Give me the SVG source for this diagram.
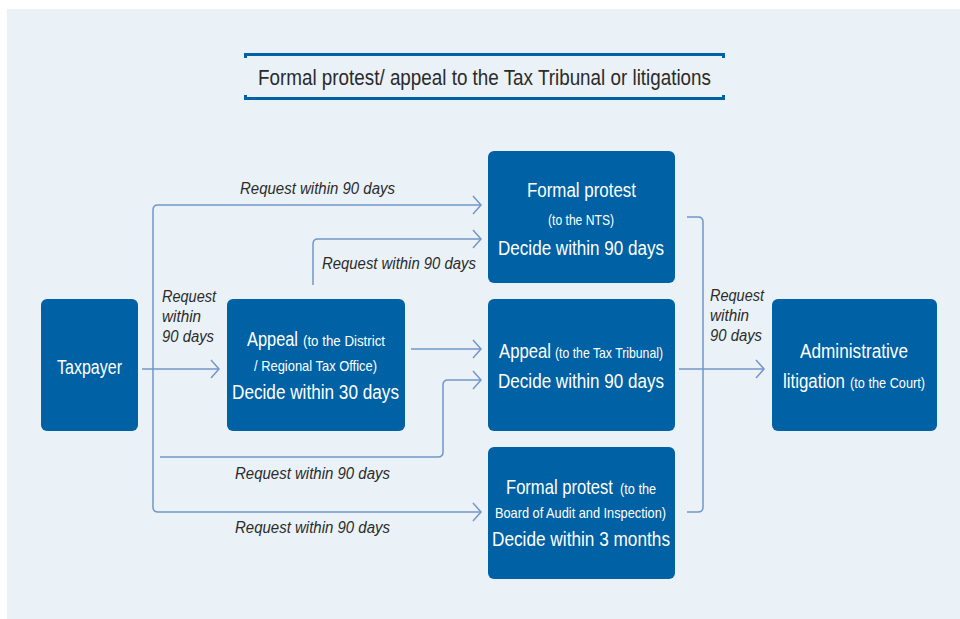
<svg xmlns="http://www.w3.org/2000/svg" width="960" height="619" viewBox="0 0 960 619">
<style>
.box{fill:#0061a5}
.w{fill:#ffffff;font-family:"Liberation Sans Narrow","Liberation Sans",Arial,sans-serif}
.big{font-size:20px}
.sm{font-size:14.5px}
.lbl{fill:#2b2b2b;font-family:"Liberation Sans Narrow","Liberation Sans",Arial,sans-serif;font-size:16px;font-style:italic}
.ttl{fill:#2b2b2b;font-family:"Liberation Sans Narrow","Liberation Sans",Arial,sans-serif;font-size:22px}
.con{fill:none;stroke:#7396c9;stroke-width:1.5}
</style>
<defs>
<marker id="arr" markerUnits="userSpaceOnUse" viewBox="-10 -11 12 22" markerWidth="12" markerHeight="22" refX="0" refY="0" orient="auto">
<path d="M-8,-9 L0,0 L-8,9" fill="none" stroke="#7396c9" stroke-width="1.5"/>
</marker>
</defs>
<rect x="7" y="9" width="953" height="610" fill="#eaf2f7"/>
<g id="title">
<path d="M245.5,58 V54.5 H723.5 V58" fill="none" stroke="#0061a5" stroke-width="3"/>
<path d="M245.5,95 V98.5 H723.5 V95" fill="none" stroke="#0061a5" stroke-width="3"/>
<text class="ttl" x="258" y="85" textLength="453" lengthAdjust="spacingAndGlyphs">Formal protest/ appeal to the Tax Tribunal or litigations</text>
</g>
<g id="connectors">
<path class="con" d="M153,370 V210 Q153,205 158,205 H481" marker-end="url(#arr)"/>
<path class="con" d="M153,370 V507 Q153,512 158,512 H481" marker-end="url(#arr)"/>
<path class="con" d="M142,369 H219" marker-end="url(#arr)"/>
<path class="con" d="M313,285 V244 Q313,239 318,239 H481" marker-end="url(#arr)"/>
<path class="con" d="M411,349 H481" marker-end="url(#arr)"/>
<path class="con" d="M160,457 H438 Q443,457 443,452 V385 Q443,380 448,380 H481" marker-end="url(#arr)"/>
<path class="con" d="M687,217 H698 Q703,217 703,222 V507 Q703,512 698,512 H687"/>
<path class="con" d="M679,369 H764" marker-end="url(#arr)"/>
<text class="lbl" x="240" y="194" textLength="155" lengthAdjust="spacingAndGlyphs">Request within 90 days</text>
<text class="lbl" x="322" y="269" textLength="154" lengthAdjust="spacingAndGlyphs">Request within 90 days</text>
<text class="lbl" x="235" y="479" textLength="155" lengthAdjust="spacingAndGlyphs">Request within 90 days</text>
<text class="lbl" x="235" y="533" textLength="155" lengthAdjust="spacingAndGlyphs">Request within 90 days</text>
<text class="lbl" x="162" y="302" textLength="54" lengthAdjust="spacingAndGlyphs">Request</text>
<text class="lbl" x="162" y="322" textLength="39" lengthAdjust="spacingAndGlyphs">within</text>
<text class="lbl" x="162" y="342" textLength="52" lengthAdjust="spacingAndGlyphs">90 days</text>
<text class="lbl" x="710" y="301" textLength="54" lengthAdjust="spacingAndGlyphs">Request</text>
<text class="lbl" x="710" y="321" textLength="39" lengthAdjust="spacingAndGlyphs">within</text>
<text class="lbl" x="710" y="341" textLength="52" lengthAdjust="spacingAndGlyphs">90 days</text>
</g>
<g id="taxpayer">
<rect class="box" x="41" y="299" width="97" height="132" rx="6"/>
<text class="w big" x="57" y="374" textLength="65" lengthAdjust="spacingAndGlyphs">Taxpayer</text>
</g>
<g id="appeal-district">
<rect class="box" x="227" y="299" width="178" height="132" rx="6"/>
<text class="w big" x="247" y="346" textLength="51" lengthAdjust="spacingAndGlyphs">Appeal</text>
<text class="w sm" x="303" y="346" textLength="82" lengthAdjust="spacingAndGlyphs">(to the District</text>
<text class="w sm" x="254" y="371" textLength="123" lengthAdjust="spacingAndGlyphs">/ Regional Tax Office)</text>
<text class="w big" x="232" y="399" textLength="167" lengthAdjust="spacingAndGlyphs">Decide within 30 days</text>
</g>
<g id="formal-protest-nts">
<rect class="box" x="488" y="151" width="187" height="132" rx="6"/>
<text class="w big" x="527" y="197" textLength="109" lengthAdjust="spacingAndGlyphs">Formal protest</text>
<text class="w sm" x="548" y="225" textLength="66" lengthAdjust="spacingAndGlyphs">(to the NTS)</text>
<text class="w big" x="498" y="255" textLength="166" lengthAdjust="spacingAndGlyphs">Decide within 90 days</text>
</g>
<g id="appeal-tribunal">
<rect class="box" x="488" y="299" width="187" height="132" rx="6"/>
<text class="w big" x="499" y="358" textLength="52" lengthAdjust="spacingAndGlyphs">Appeal</text>
<text class="w sm" x="555" y="358" textLength="108" lengthAdjust="spacingAndGlyphs">(to the Tax Tribunal)</text>
<text class="w big" x="498" y="388" textLength="166" lengthAdjust="spacingAndGlyphs">Decide within 90 days</text>
</g>
<g id="formal-protest-bai">
<rect class="box" x="488" y="447" width="187" height="132" rx="6"/>
<text class="w big" transform="translate(506,494) scale(0.83,1)" x="0" y="0">Formal protest</text>
<text class="w sm" transform="translate(620,494) scale(0.88,1)" x="0" y="0">(to the</text>
<text class="w sm" x="495" y="518" textLength="171" lengthAdjust="spacingAndGlyphs">Board of Audit and Inspection)</text>
<text class="w big" x="492" y="546" textLength="178" lengthAdjust="spacingAndGlyphs">Decide within 3 months</text>
</g>
<g id="admin-litigation">
<rect class="box" x="772" y="299" width="165" height="132" rx="6"/>
<text class="w big" x="800" y="358" textLength="108" lengthAdjust="spacingAndGlyphs">Administrative</text>
<text class="w big" x="783" y="388" textLength="62" lengthAdjust="spacingAndGlyphs">litigation</text>
<text class="w sm" x="850" y="388" textLength="75" lengthAdjust="spacingAndGlyphs">(to the Court)</text>
</g>
</svg>
